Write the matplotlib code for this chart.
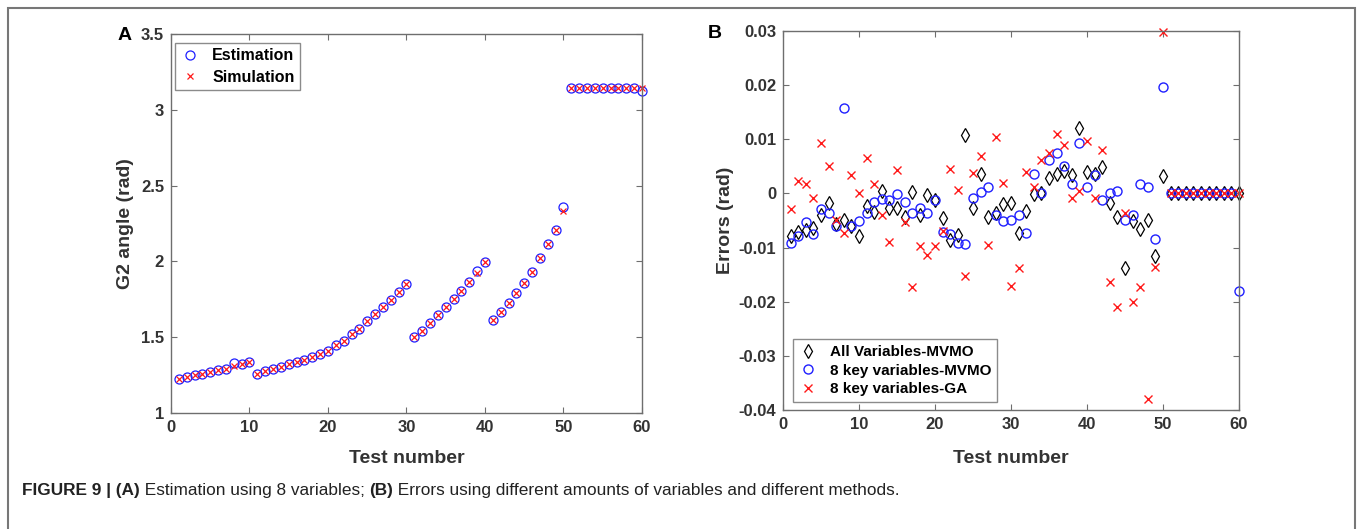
import numpy as np
import matplotlib
matplotlib.use("Agg")
import matplotlib.pyplot as plt
from matplotlib.patches import Rectangle
from matplotlib import font_manager

plt.rcParams['font.family'] = ['Liberation Sans', 'DejaVu Sans']

# ---- data ----
test = np.arange(1, 61)

estimation = [1.227, 1.238, 1.249, 1.256, 1.271, 1.282, 1.293, 1.333, 1.322, 1.337,
              1.256, 1.277, 1.289, 1.304, 1.322, 1.337, 1.348, 1.370, 1.386, 1.408,
              1.447, 1.476, 1.518, 1.557, 1.608, 1.652, 1.700, 1.744, 1.799, 1.848,
              1.502, 1.542, 1.594, 1.645, 1.700, 1.755, 1.806, 1.865, 1.938, 1.997,
              1.612, 1.665, 1.727, 1.793, 1.859, 1.931, 2.020, 2.112, 2.207, 2.357,
              3.143, 3.143, 3.143, 3.143, 3.143, 3.143, 3.143, 3.143, 3.143, 3.127]
simulation = [1.227, 1.238, 1.249, 1.256, 1.271, 1.282, 1.293, 1.312, 1.322, 1.337,
              1.256, 1.277, 1.289, 1.304, 1.322, 1.337, 1.348, 1.370, 1.386, 1.408,
              1.447, 1.476, 1.518, 1.557, 1.608, 1.652, 1.700, 1.744, 1.799, 1.848,
              1.502, 1.542, 1.594, 1.645, 1.700, 1.755, 1.806, 1.865, 1.925, 1.997,
              1.612, 1.665, 1.727, 1.793, 1.859, 1.931, 2.020, 2.112, 2.207, 2.334,
              3.143, 3.143, 3.143, 3.143, 3.143, 3.143, 3.143, 3.143, 3.143, 3.141]

err_all_mvmo = [-0.0079, -0.0071, -0.0067, -0.0064, -0.0039, -0.0017, -0.0056, -0.0049, -0.0061, -0.0078,
                -0.0023, -0.0034, 0.0004, -0.0026, -0.0026, -0.0043, 0.0002, -0.0039, -0.0003, -0.0012,
                -0.0045, -0.0086, -0.0077, 0.0107, -0.0026, 0.0035, -0.0044, -0.0037, -0.0020, -0.0018,
                -0.0074, -0.0032, -0.0001, 0.0000, 0.0028, 0.0036, 0.0042, 0.0034, 0.0120, 0.0039,
                0.0036, 0.0049, -0.0017, -0.0043, -0.0138, -0.0050, -0.0066, -0.0049, -0.0115, 0.0033,
                0, 0, 0, 0, 0, 0, 0, 0, 0, 0]
err_8key_mvmo = [-0.0091, -0.0079, -0.0053, -0.0075, -0.0029, -0.0036, -0.0061, 0.0158, -0.0060, -0.0050,
                 -0.0037, -0.0015, -0.0011, -0.0012, -0.0001, -0.0015, -0.0036, -0.0026, -0.0037, -0.0013,
                 -0.0072, -0.0075, -0.0092, -0.0094, -0.0008, 0.0002, 0.0012, -0.0040, -0.0051, -0.0049,
                 -0.0039, -0.0074, 0.0036, 0.0001, 0.0061, 0.0074, 0.0051, 0.0017, 0.0094, 0.0012,
                 0.0034, -0.0012, 0.0001, 0.0004, -0.0049, -0.0040, 0.0017, 0.0011, -0.0084, 0.0196,
                 0, 0, 0, 0, 0, 0, 0, 0, 0, -0.0180]
err_8key_ga = [-0.0029, 0.0023, 0.0018, -0.0009, 0.0094, 0.0051, -0.0049, -0.0074, 0.0034, 0.0001,
               0.0066, 0.0017, -0.0040, -0.0090, 0.0044, -0.0052, -0.0173, -0.0097, -0.0113, -0.0098,
               -0.0069, 0.0045, 0.0006, -0.0153, 0.0038, 0.0069, -0.0095, 0.0105, 0.0020, -0.0171,
               -0.0138, 0.0040, 0.0012, 0.0061, 0.0075, 0.0109, 0.0090, -0.0009, 0.0005, 0.0097,
               -0.0009, 0.0080, -0.0163, -0.0210, -0.0037, -0.0201, -0.0172, -0.0379, -0.0135, 0.0299,
               0, 0, 0, 0, 0, 0, 0, 0, 0, 0]

xticks = [0, 10, 20, 30, 40, 50, 60]
yticks_a = [1, 1.5, 2, 2.5, 3, 3.5]
yticklabels_a = ['1', '1.5', '2', '2.5', '3', '3.5']
yticks_b = [-0.04, -0.03, -0.02, -0.01, 0, 0.01, 0.02, 0.03]
yticklabels_b = ['-0.04', '-0.03', '-0.02', '-0.01', '0', '0.01', '0.02', '0.03']

W, H = 1357, 529
fig = plt.figure(figsize=(W / 100, H / 100), dpi=100)

spine_col = '#6e6e6e'
tick_col = '#333333'


def px_axes(l, t, r, b):
    return fig.add_axes([l / W, 1 - b / H, (r - l) / W, (b - t) / H])


def matlab_style(ax):
    for s in ax.spines.values():
        s.set_color(spine_col)
        s.set_linewidth(1.0)
    ax.tick_params(direction='in', top=True, right=True, length=4, width=0.8,
                   color=spine_col, labelcolor=tick_col, labelsize=12, pad=5)
    for lab in ax.get_xticklabels() + ax.get_yticklabels():
        lab.set_fontweight('bold')


# ---- panel A ----
axA = px_axes(171, 34, 642, 413)
axA.plot(test, estimation, linestyle='none', marker='o', markersize=6.5, markerfacecolor='none',
         markeredgecolor='#1f1fff', markeredgewidth=0.9, clip_on=False, label='Estimation')
axA.plot(test, simulation, linestyle='none', marker='x', markersize=4.5, color='#ff1a1a',
         markeredgewidth=0.9, clip_on=False, label='Simulation')
axA.set_xlim(0, 60)
axA.set_ylim(1, 3.5)
axA.set_xticks(xticks)
axA.set_yticks(yticks_a)
axA.set_yticklabels(yticklabels_a)
matlab_style(axA)
axA.set_xlabel('Test number', fontsize=14, fontweight='bold', color=tick_col, va='top')
axA.xaxis.set_label_coords(0.5, (413 - 450) / 379)
axA.set_ylabel('G2 angle (rad)', fontsize=14, fontweight='bold', color=tick_col)
axA.yaxis.set_label_coords((134 - 171) / 471, 0.5)
legA = axA.legend(loc='upper left', bbox_to_anchor=(0.008, 0.977), frameon=True, fancybox=False,
                  edgecolor=spine_col, prop={'weight': 'bold', 'size': 11.5}, handlelength=1.2,
                  handletextpad=0.8, borderpad=0.35, labelspacing=0.4, borderaxespad=0)
legA.get_frame().set_linewidth(1.0)
fig.text(125 / W, 1 - 35 / H, 'A', fontsize=14, fontweight='bold', ha='center', va='center')

# ---- panel B ----
axB = px_axes(783, 31, 1239, 410)
axB.plot(test, err_all_mvmo, linestyle='none', marker='d', markersize=7.5, markerfacecolor='none',
         markeredgecolor='black', markeredgewidth=0.9, clip_on=False, label='All Variables-MVMO')
axB.plot(test, err_8key_mvmo, linestyle='none', marker='o', markersize=6.5, markerfacecolor='none',
         markeredgecolor='#1f1fff', markeredgewidth=1.0, clip_on=False, label='8 key variables-MVMO')
axB.plot(test, err_8key_ga, linestyle='none', marker='x', markersize=6, color='#ff1a1a',
         markeredgewidth=1.0, clip_on=False, label='8 key variables-GA')
axB.set_xlim(0, 60)
axB.set_ylim(-0.04, 0.03)
axB.set_xticks(xticks)
axB.set_yticks(yticks_b)
axB.set_yticklabels(yticklabels_b)
matlab_style(axB)
axB.set_xlabel('Test number', fontsize=14, fontweight='bold', color=tick_col, va='top')
axB.xaxis.set_label_coords(0.5, (410 - 450) / 379)
axB.set_ylabel('Errors (rad)', fontsize=14, fontweight='bold', color=tick_col)
axB.yaxis.set_label_coords((734 - 783) / 456, 0.5)
legB = axB.legend(loc='lower left', bbox_to_anchor=(0.022, 0.02), frameon=True, fancybox=False,
                  edgecolor=spine_col, prop={'weight': 'bold', 'size': 11}, handlelength=1.2,
                  handletextpad=0.8, borderpad=0.4, labelspacing=0.3, borderaxespad=0)
legB.get_frame().set_linewidth(1.0)
fig.text(715 / W, 1 - 34 / H, 'B', fontsize=14, fontweight='bold', ha='center', va='center')

# ---- outer frame ----
fig.patches.append(Rectangle((8 / W, -0.05), (1355 - 8) / W, 1.05 - 8 / H, transform=fig.transFigure,
                             fill=False, edgecolor='#777777', linewidth=1.5))

# ---- caption, bold and regular pieces placed one after another ----
fonts = {f.name for f in font_manager.fontManager.ttflist}
cap_family = ['Liberation Sans Narrow'] if 'Liberation Sans Narrow' in fonts else ['Liberation Sans']
pieces = [('FIGURE 9 | (A)', 'bold'), (' Estimation using 8 variables; ', 'normal'),
          ('(B)', 'bold'), (' Errors using different amounts of variables and different methods.', 'normal')]
renderer = fig.canvas.get_renderer()
x = 22
for txt, wt in pieces:
    t = fig.text(x / W, 1 - 491 / H, txt, fontsize=12.4, fontweight=wt, family=cap_family,
                 color='#222222', ha='left', va='center')
    bb = t.get_window_extent(renderer=renderer)
    x = bb.x1

fig.savefig('out.png', dpi=100)
